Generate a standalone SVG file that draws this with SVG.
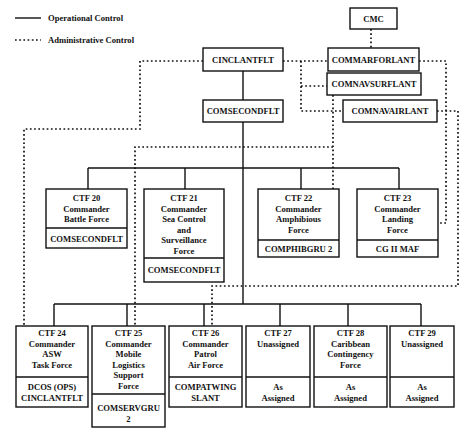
<svg xmlns="http://www.w3.org/2000/svg" width="474" height="434" viewBox="0 0 474 434">
<style>
text{font-family:"Liberation Serif","Times New Roman",serif;font-weight:bold;font-size:8.6px;fill:#111;text-anchor:middle}
.lg{text-anchor:start}
.box{fill:#fff;stroke:#111;stroke-width:1.4}
.div{stroke:#111;stroke-width:1.4}
.op{fill:none;stroke:#111;stroke-width:1.4}
.ad{fill:none;stroke:#111;stroke-width:1.7;stroke-dasharray:1.7 2.5}
</style>
<rect width="474" height="434" fill="#fff"/>
<g id="legend">
<line class="op" x1="15" y1="18" x2="41" y2="18"/>
<text class="lg" x="48" y="21">Operational Control</text>
<line class="ad" x1="15" y1="40" x2="41" y2="40"/>
<text class="lg" x="48" y="43">Administrative Control</text>
</g>
<g id="connectors">
<path class="op" d="M243,71V100M243,122V304M88,168H399M88,168V189M185,168V189M301,168V189M399,168V189M54,304H421M54,304V326M127,304V326M204,304V326M280,304V326M348,304V326M421,304V326"/>
<path class="ad" d="M203,61H140V129H24V326"/>
<path class="ad" d="M283,61H328"/>
<path class="ad" d="M301,61V111H343M301,86H327"/>
<path class="ad" d="M371,29V48"/>
<path class="ad" d="M419,61H446V223H438"/>
<path class="ad" d="M437,111H458V286H212V326"/>
<path class="ad" d="M333,95V189M333,147H135V326"/>
</g>
<g id="cmc"><rect class="box" x="350" y="8" width="47" height="21"/><text x="373.5" y="21.5">CMC</text></g>
<g id="cinclantflt"><rect class="box" x="203" y="48" width="80" height="23"/><text x="243" y="62.5">CINCLANTFLT</text></g>
<g id="commarforlant"><rect class="box" x="328" y="48" width="91" height="23"/><text x="373.5" y="62.5">COMMARFORLANT</text></g>
<g id="comnavsurflant"><rect class="box" x="327" y="73" width="94" height="22"/><text x="374" y="87">COMNAVSURFLANT</text></g>
<g id="comnavairlant"><rect class="box" x="343" y="100" width="94" height="22"/><text x="390" y="114">COMNAVAIRLANT</text></g>
<g id="comsecondflt"><rect class="box" x="203" y="100" width="80" height="22"/><text x="243" y="114">COMSECONDFLT</text></g>
<g id="ctf20"><rect class="box" x="46" y="189" width="81" height="59"/><line class="div" x1="46" y1="228" x2="127" y2="228"/>
<text x="86.5" y="201">CTF 20</text><text x="86.5" y="211.5">Commander</text><text x="86.5" y="222">Battle Force</text><text x="86.5" y="241.5">COMSECONDFLT</text></g>
<g id="ctf21"><rect class="box" x="144" y="189" width="80" height="93"/><line class="div" x1="144" y1="258" x2="224" y2="258"/>
<text x="184" y="201">CTF 21</text><text x="184" y="211.5">Commander</text><text x="184" y="222">Sea Control</text><text x="184" y="232.5">and</text><text x="184" y="243">Surveillance</text><text x="184" y="253.5">Force</text><text x="184" y="273">COMSECONDFLT</text></g>
<g id="ctf22"><rect class="box" x="258" y="189" width="81" height="68"/><line class="div" x1="258" y1="240" x2="339" y2="240"/>
<text x="298.5" y="201">CTF 22</text><text x="298.5" y="211.5">Commander</text><text x="298.5" y="222">Amphibious</text><text x="298.5" y="232.5">Force</text><text x="298.5" y="251.5">COMPHIBGRU 2</text></g>
<g id="ctf23"><rect class="box" x="357" y="189" width="81" height="68"/><line class="div" x1="357" y1="240" x2="438" y2="240"/>
<text x="397.5" y="201">CTF 23</text><text x="397.5" y="211.5">Commander</text><text x="397.5" y="222">Landing</text><text x="397.5" y="232.5">Force</text><text x="397.5" y="251.5">CG II MAF</text></g>
<g id="ctf24"><rect class="box" x="16" y="326" width="72" height="81"/><line class="div" x1="16" y1="377" x2="88" y2="377"/>
<text x="52" y="336">CTF 24</text><text x="52" y="346.5">Commander</text><text x="52" y="357">ASW</text><text x="52" y="367.5">Task Force</text><text x="52" y="390">DCOS (OPS)</text><text x="52" y="400.5">CINCLANTFLT</text></g>
<g id="ctf25"><rect class="box" x="92" y="326" width="73" height="101"/><line class="div" x1="92" y1="394" x2="165" y2="394"/>
<text x="128.5" y="336">CTF 25</text><text x="128.5" y="346.5">Commander</text><text x="128.5" y="357">Mobile</text><text x="128.5" y="367.5">Logistics</text><text x="128.5" y="378">Support</text><text x="128.5" y="388.5">Force</text><text x="128.5" y="411">COMSERVGRU</text><text x="128.5" y="421.5">2</text></g>
<g id="ctf26"><rect class="box" x="169" y="326" width="73" height="81"/><line class="div" x1="169" y1="377" x2="242" y2="377"/>
<text x="205.5" y="336">CTF 26</text><text x="205.5" y="346.5">Commander</text><text x="205.5" y="357">Patrol</text><text x="205.5" y="367.5">Air Force</text><text x="205.5" y="390">COMPATWING</text><text x="205.5" y="400.5">SLANT</text></g>
<g id="ctf27"><rect class="box" x="246" y="326" width="64" height="81"/><line class="div" x1="246" y1="377" x2="310" y2="377"/>
<text x="278" y="336">CTF 27</text><text x="278" y="346.5">Unassigned</text><text x="278" y="390">As</text><text x="278" y="400.5">Assigned</text></g>
<g id="ctf28"><rect class="box" x="314" y="326" width="73" height="81"/><line class="div" x1="314" y1="377" x2="387" y2="377"/>
<text x="350.5" y="336">CTF 28</text><text x="350.5" y="346.5">Caribbean</text><text x="350.5" y="357">Contingency</text><text x="350.5" y="367.5">Force</text><text x="350.5" y="390">As</text><text x="350.5" y="400.5">Assigned</text></g>
<g id="ctf29"><rect class="box" x="390" y="326" width="64" height="81"/><line class="div" x1="390" y1="377" x2="454" y2="377"/>
<text x="422" y="336">CTF 29</text><text x="422" y="346.5">Unassigned</text><text x="422" y="390">As</text><text x="422" y="400.5">Assigned</text></g>
</svg>
